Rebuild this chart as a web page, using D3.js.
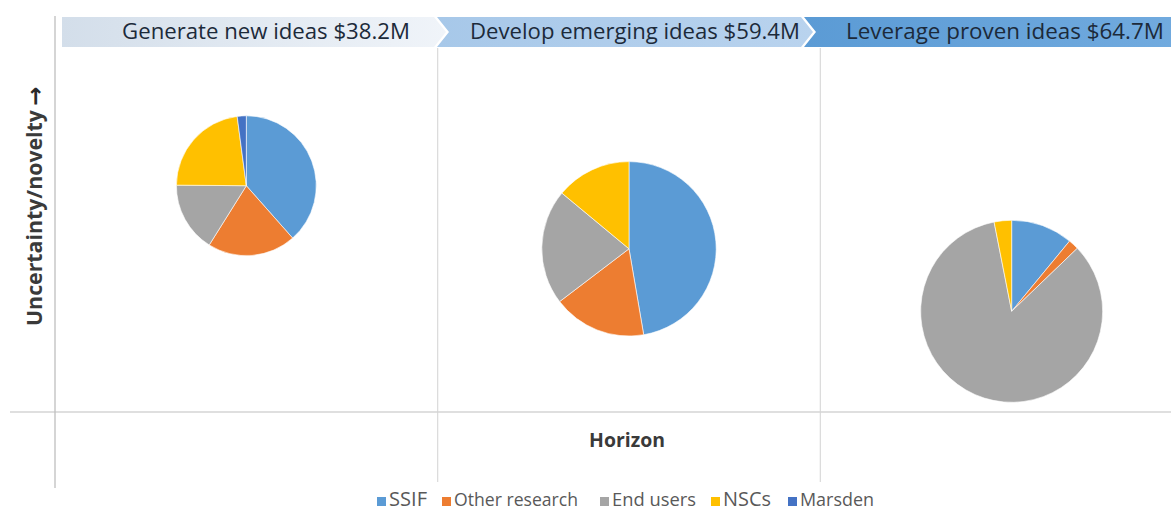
<!DOCTYPE html>
<html>
<head>
<meta charset="utf-8">
<script src="https://cdn.jsdelivr.net/npm/d3@7"></script>
<style>
  html, body { margin: 0; padding: 0; background: #ffffff; }
  svg { display: block; }
</style>
</head>
<body>
<svg id="chart" width="1171" height="511"></svg>
<script>
// Funding stages (horizon) and their totals in $M
const stages = ["Generate new ideas", "Develop emerging ideas", "Leverage proven ideas"];
const stageTotals = [38.2, 59.4, 64.7];
const horizon = [1, 2, 3];
const uncertainty = [3.73, 2.69, 1.66];

// Funding sources, in pie order
const sources = ["SSIF", "Other research", "End users", "NSCs", "Marsden"];
const sourceColors = ["#5b9bd5", "#ed7d31", "#a5a5a5", "#ffc000", "#4472c4"];

// $M per source for each stage
const generateValues = [14.7, 7.8, 6.2, 8.7, 0.8];
const developValues  = [28.1, 10.3, 12.7, 8.3, 0.0];
const leverageValues = [7.1, 1.2, 54.4, 2.0, 0.0];
const stageValues = [generateValues, developValues, leverageValues];

const svg = d3.select("#chart");
const W = 1171, H = 511;
const FONT = "'Open Sans', 'Liberation Sans', sans-serif";

const x = d3.scaleLinear().domain([0.5, 3.5]).range([55, 1203]);
const y = d3.scaleLinear().domain([0, 6]).range([412, 48]);
const r = d3.scaleSqrt().domain([0, d3.max(stageTotals)]).range([0, 91]);
const color = d3.scaleOrdinal().domain(sources).range(sourceColors);

// Fit a text element to a target width by adjusting its font size
function fitWidth(sel, target) {
  const node = sel.node();
  const fs = parseFloat(sel.attr("font-size"));
  const w = node.getComputedTextLength();
  if (w > 0) sel.attr("font-size", (fs * target / w).toFixed(2));
  return sel;
}

// ---- grid / axis lines ----
const grid = svg.append("g");
[1.5, 2.5].forEach(v => {
  grid.append("line")
    .attr("x1", x(v)).attr("x2", x(v))
    .attr("y1", 48).attr("y2", 482)
    .attr("stroke", "#dadada").attr("stroke-width", 1.2);
});
grid.append("line")
  .attr("x1", 10).attr("x2", W)
  .attr("y1", y(0)).attr("y2", y(0))
  .attr("stroke", "#d4d4d4").attr("stroke-width", 1.5);
grid.append("line")
  .attr("x1", x(0.5)).attr("x2", x(0.5))
  .attr("y1", 16).attr("y2", 488)
  .attr("stroke", "#bfbfbf").attr("stroke-width", 1.3);

// ---- chevron banner ----
const defs = svg.append("defs");
const bandFills = [
  ["#d3deea", "#f0f4f9"],
  ["#a7c8e9", "#b9d3ee"],
  ["#5b9bd5", "#72abdf"]
];
bandFills.forEach((c, i) => {
  const g = defs.append("linearGradient").attr("id", "band" + i)
    .attr("x1", "0%").attr("x2", "100%").attr("y1", "0%").attr("y2", "0%");
  g.append("stop").attr("offset", "0%").attr("stop-color", c[0]);
  g.append("stop").attr("offset", "100%").attr("stop-color", c[1]);
});

const bandTop = 17, bandBot = 47, bandMid = (bandTop + bandBot) / 2, tip = 12;
const bands = [
  { left: 62, right: 434, notch: false, point: true },
  { left: 437, right: 801, notch: true, point: true },
  { left: 804, right: W + 20, notch: true, point: false }
];
const bandG = svg.append("g");
bands.forEach((b, i) => {
  const p = d3.path();
  p.moveTo(b.left, bandTop);
  p.lineTo(b.right, bandTop);
  if (b.point) p.lineTo(b.right + tip, bandMid);
  p.lineTo(b.right, bandBot);
  p.lineTo(b.left, bandBot);
  if (b.notch) p.lineTo(b.left + tip, bandMid);
  p.closePath();
  bandG.append("path").attr("d", p.toString()).attr("fill", `url(#band${i})`);
});

const labelCenters = [266, 635, 1005];
const labelWidths = [288, 330, 318];
stages.forEach((s, i) => {
  const t = bandG.append("text")
    .attr("x", labelCenters[i]).attr("y", 39)
    .attr("text-anchor", "middle")
    .attr("font-family", FONT).attr("font-size", 19)
    .attr("fill", "#1c2a3a")
    .text(`${s} $${stageTotals[i].toFixed(1)}M`);
  fitWidth(t, labelWidths[i]);
});

// ---- pies ----
const pie = d3.pie().sort(null).startAngle(0).endAngle(2 * Math.PI);
const pieG = svg.append("g");
stageValues.forEach((vals, i) => {
  const radius = r(stageTotals[i]);
  const arc = d3.arc().innerRadius(0).outerRadius(radius);
  const g = pieG.append("g")
    .attr("transform", `translate(${x(horizon[i])},${y(uncertainty[i])})`);
  g.selectAll("path")
    .data(pie(vals))
    .join("path")
    .attr("d", arc)
    .attr("fill", (d, j) => color(sources[j]))
    .attr("stroke", "#ffffff")
    .attr("stroke-width", d => d.value > 0 ? 0.6 : 0);
});

// ---- axis titles ----
const xt = svg.append("text")
  .attr("x", 627).attr("y", 447)
  .attr("text-anchor", "middle")
  .attr("font-family", FONT).attr("font-weight", "bold")
  .attr("font-size", 18).attr("fill", "#3a3a3a")
  .text("Horizon");
fitWidth(xt, 76);

const yt = svg.append("text")
  .attr("transform", "translate(42,218) rotate(-90)")
  .attr("text-anchor", "middle")
  .attr("font-family", FONT).attr("font-weight", "bold")
  .attr("font-size", 18).attr("fill", "#3a3a3a")
  .text("Uncertainty/novelty");
fitWidth(yt, 216);
// arrow pointing up the axis
svg.append("text")
  .attr("transform", "translate(43,96) rotate(-90)")
  .attr("text-anchor", "middle")
  .attr("font-family", "'DejaVu Sans', sans-serif").attr("font-weight", "bold")
  .attr("font-size", 23).attr("fill", "#2a2a2a")
  .text("\u2192");

// ---- legend ----
const legendX = [377, 442, 600, 711, 788];
const legendW = [38, 124, 84, 48, 74];
const leg = svg.append("g");
sources.forEach((s, i) => {
  leg.append("rect")
    .attr("x", legendX[i]).attr("y", 497)
    .attr("width", 9).attr("height", 9)
    .attr("fill", color(s));
  const t = leg.append("text")
    .attr("x", legendX[i] + 12).attr("y", 506)
    .attr("font-family", FONT).attr("font-size", 15)
    .attr("fill", "#595959")
    .text(s);
  fitWidth(t, legendW[i]);
});
</script>
</body>
</html>
